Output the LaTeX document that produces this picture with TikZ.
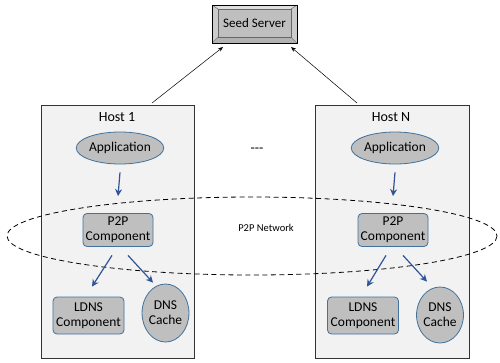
\documentclass[tikz,border=0pt]{standalone}
\usepackage{fontspec}
\setmainfont{Carlito}
\usetikzlibrary{shapes.geometric,arrows.meta}
\definecolor{hostfill}{HTML}{F2F2F2}
\definecolor{compfill}{HTML}{BFBFBF}
\definecolor{compline}{HTML}{41719C}
\definecolor{arrowblue}{HTML}{2F5597}
\tikzset{
  host/.style={draw=black!80, line width=0.9pt, fill=hostfill},
  comp/.style={draw=compline, line width=0.8pt, fill=compfill, rounded corners=4pt, align=center, inner sep=0pt, font=\fontsize{13.5}{15}\selectfont},
  compell/.style={draw=compline, line width=0.8pt, fill=compfill, ellipse, align=center, inner sep=0pt, font=\fontsize{13.5}{15}\selectfont},
  flow/.style={draw=arrowblue, line width=1.2pt, -{Stealth[length=7pt,width=7pt]}},
  thin/.style={draw=black, line width=0.5pt, -{Stealth[length=5pt,width=4pt]}},
  lbl/.style={font=\fontsize{14}{15}\selectfont}
}
\begin{document}
\begin{tikzpicture}[x=1pt,y=-1pt]
\useasboundingbox (0,0) rectangle (500,362);
% hosts
\draw[host] (41,105) rectangle (194,358);
\draw[host] (315,105) rectangle (469,358);
% network ellipse
\draw[line width=0.8pt, dash pattern=on 5pt off 3.5pt] (252,236) ellipse [x radius=245, y radius=39];
% seed server bevel
\fill[gray!45] (212,5) rectangle (297,43);
\fill[gray!25] (212,5) -- (297,5) -- (291,9) -- (218,9) -- cycle;
\fill[gray!60] (212,43) -- (297,43) -- (291,37) -- (218,37) -- cycle;
\fill[gray!40] (212,5) -- (218,9) -- (218,37) -- (212,43) -- cycle;
\fill[gray!40] (297,5) -- (291,9) -- (291,37) -- (297,43) -- cycle;
\draw[black!70, line width=0.3pt] (212,5) -- (218,9) (297,5) -- (291,9) (212,43) -- (218,37) (297,43) -- (291,37);
\node[draw=black!60, line width=0.3pt, fill=gray!50, minimum width=73pt, minimum height=28pt, inner sep=0pt, font=\fontsize{13}{14}\selectfont] (seed) at (254.5,23) {Seed Server};
\draw[line width=0.9pt] (212,5) rectangle (297,43);
\coordinate (seedA) at (223,47);
\coordinate (seedB) at (291,47);
% host 1
\node[lbl] (h1) at (117,117) {Host 1};
\node[compell, minimum width=75pt, minimum height=32pt] (app1) at (120,148) {Application};
\node[comp, minimum width=70pt, minimum height=33pt] (p2p1) at (118,230) {P2P\\Component};
\node[comp, minimum width=71pt, minimum height=37pt] (ldns1) at (88.5,315.5) {LDNS\\Component};
\node[compell, minimum width=43pt, minimum height=58pt] (dns1) at (165.5,313) {DNS\\Cache};
% host N
\node[lbl] (hn) at (391,117) {Host N};
\node[compell, minimum width=75pt, minimum height=32pt] (appn) at (395,148) {Application};
\node[comp, minimum width=70pt, minimum height=33pt] (p2pn) at (393,230) {P2P\\Component};
\node[comp, minimum width=71pt, minimum height=37pt] (ldnsn) at (363,315.5) {LDNS\\Component};
\node[compell, minimum width=43pt, minimum height=56pt] (dnsn) at (440,315) {DNS\\Cache};
% labels
\node[font=\fontsize{10.5}{12}\selectfont] (net) at (266,228) {P2P Network};
\node[lbl] (dots) at (257,150) {-{}-{}-};
% flows
\draw[flow] ([yshift=-8pt]app1.south) -- ([yshift=17pt]p2p1.north);
\draw[flow] ([yshift=-8pt]appn.south) -- ([yshift=17pt]p2pn.north);
\draw[flow] ([shift={(-6pt,-8.5pt)}]p2p1.south) -- ([shift={(3.5pt,10pt)}]ldns1.north);
\draw[flow] ([shift={(10pt,-8.5pt)}]p2p1.south) -- ([shift={(-12.5pt,1pt)}]dns1.north);
\draw[flow] ([shift={(-7pt,-8.5pt)}]p2pn.south) -- ([shift={(4pt,10pt)}]ldnsn.north);
\draw[flow] ([shift={(10pt,-8.5pt)}]p2pn.south) -- ([shift={(-13pt,5pt)}]dnsn.north);
% to seed
\coordinate (t1) at (152,103);
\coordinate (tn) at (357,103);
\draw[thin] (t1) -- (seedA);
\draw[thin] (tn) -- (seedB);
\end{tikzpicture}
\end{document}
